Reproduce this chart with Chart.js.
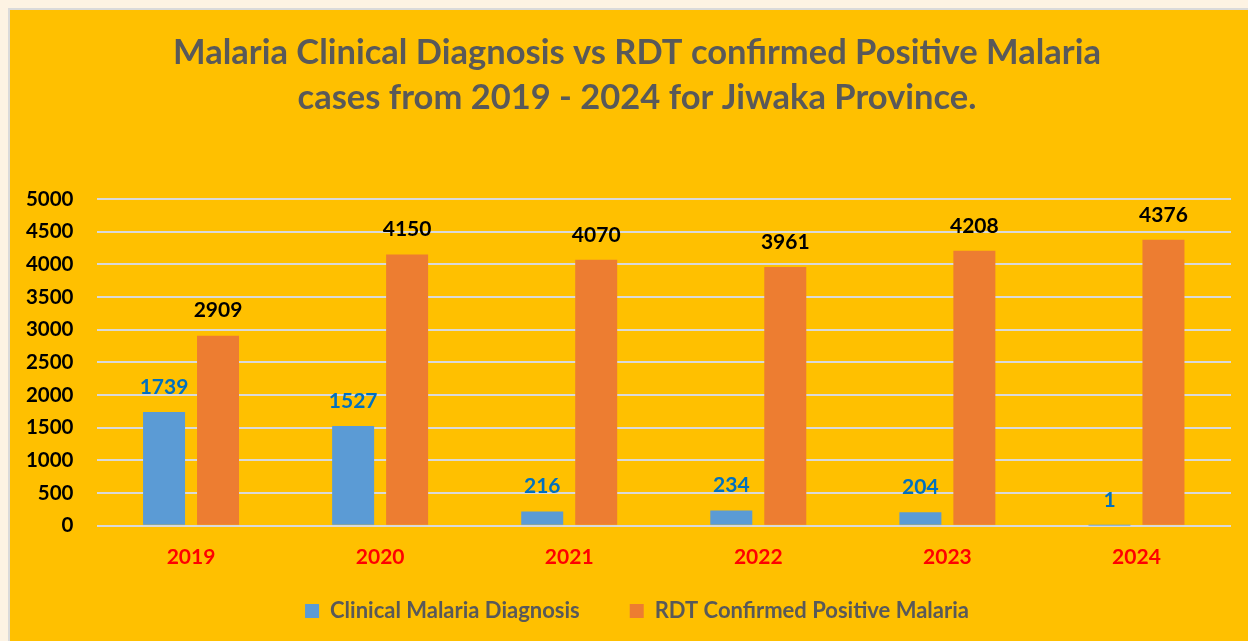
<!DOCTYPE html>
<html>
<head>
<meta charset="utf-8">
<script src="https://cdn.jsdelivr.net/npm/chart.js@4.4.1/dist/chart.umd.min.js"></script>
<style>
  html, body { margin: 0; padding: 0; width: 1248px; height: 641px; overflow: hidden; background: #FDF3E3; }
  #panel { position: absolute; left: 8px; top: 8px; width: 1240px; height: 633px; background: #FFC000; overflow: hidden;
           border-left: 2px solid #DADADA; border-top: 2px solid #DADADA; box-sizing: border-box; }
  canvas { position: absolute; left: 0; top: 0; }
</style>
</head>
<body>
<div id="panel"><canvas id="c" width="1254" height="631"></canvas></div>
<script>
const categories = ['2019', '2020', '2021', '2022', '2023', '2024'];
const clinicalMalaria = [1739, 1527, 216, 234, 204, 1];
const rdtConfirmed = [2909, 4150, 4070, 3961, 4208, 4376];
const seriesNames = ['Clinical Malaria Diagnosis', 'RDT Confirmed Positive Malaria'];
const titleLines = ['Malaria Clinical Diagnosis vs RDT confirmed Positive Malaria', 'cases from 2019 - 2024 for Jiwaka Province.'];
const yTickValues = [0, 500, 1000, 1500, 2000, 2500, 3000, 3500, 4000, 4500, 5000];

const FONT = 'Lato, "Open Sans", sans-serif';
const labelColors = ['#0070C0', '#000000'];

const valueLabels = {
  id: 'valueLabels',
  afterDatasetsDraw(chart) {
    const ctx = chart.ctx;
    ctx.save();
    ctx.font = 'bold 21px ' + FONT;
    ctx.textAlign = 'center';
    ctx.textBaseline = 'middle';
    chart.data.datasets.forEach((ds, di) => {
      const meta = chart.getDatasetMeta(di);
      ctx.fillStyle = labelColors[di];
      meta.data.forEach((el, i) => {
        ctx.fillText(String(ds.data[i]), el.x, el.y - 25);
      });
    });
    ctx.restore();
  }
};

new Chart(document.getElementById('c'), {
  type: 'bar',
  data: {
    labels: categories,
    datasets: [
      { label: seriesNames[0], data: clinicalMalaria, backgroundColor: '#5B9BD5', borderWidth: 0,
        categoryPercentage: 0.571, barPercentage: 0.778 },
      { label: seriesNames[1], data: rdtConfirmed, backgroundColor: '#ED7D31', borderWidth: 0,
        categoryPercentage: 0.571, barPercentage: 0.778 }
    ]
  },
  options: {
    responsive: false,
    animation: false,
    devicePixelRatio: 1,
    layout: { padding: { left: 0, right: 0, top: 0, bottom: 9 } },
    plugins: {
      tooltip: { enabled: false },
      title: {
        display: true,
        text: titleLines,
        color: '#595959',
        font: { family: FONT, size: 34.5, weight: 'bold', lineHeight: 45 / 34.5 },
        padding: { top: 20.5, bottom: 78.5 }
      },
      legend: {
        position: 'bottom',
        labels: {
          color: '#595959',
          font: { family: FONT, size: 22, weight: 'bold' },
          boxWidth: 14, boxHeight: 14,
          padding: 50
        }
      }
    },
    scales: {
      x: {
        grid: { display: false, drawTicks: false },
        border: { display: false },
        ticks: { color: '#FF0000', font: { family: FONT, size: 21, weight: 'bold' }, padding: 18.5 },
        afterFit(scale) {
          scale.height = 24.3;
          scale._computeLabelArea = () => undefined;
        }
      },
      y: {
        min: yTickValues[0], max: yTickValues[yTickValues.length - 1],
        afterBuildTicks(scale) { scale.ticks = yTickValues.map(v => ({ value: v })); },
        ticks: { color: '#000000', font: { family: FONT, size: 20.5, weight: 'bold' }, padding: 23,
                 callback: (v) => String(v) },
        grid: { color: '#D9D9D9', lineWidth: 2, drawTicks: false },
        border: { display: false },
        afterFit(scale) { scale.width = 86.5; }
      },
      yRightSpace: {
        type: 'linear',
        position: 'right',
        display: true,
        min: yTickValues[0], max: yTickValues[yTickValues.length - 1],
        grid: { display: false, drawTicks: false },
        border: { display: false },
        ticks: { display: false },
        afterFit(scale) { scale.width = 33; }
      }
    }
  },
  plugins: [valueLabels]
});
</script>
</body>
</html>
